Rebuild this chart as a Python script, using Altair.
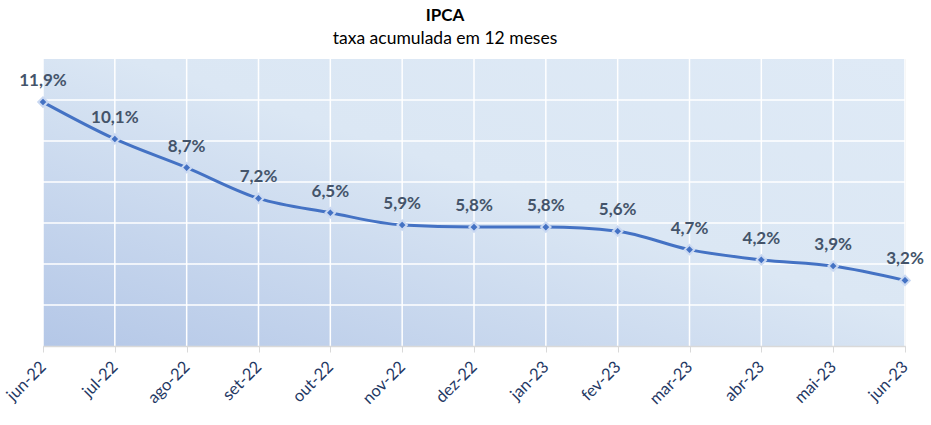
import altair as alt
import pandas as pd

months = ["jun-22", "jul-22", "ago-22", "set-22", "out-22", "nov-22", "dez-22",
          "jan-23", "fev-23", "mar-23", "abr-23", "mai-23", "jun-23"]
values = [11.9, 10.1, 8.7, 7.2, 6.5, 5.9, 5.8, 5.8, 5.6, 4.7, 4.2, 3.9, 3.2]
y_grid = [2, 4, 6, 8, 10, 12]

df = pd.DataFrame({"mes": months, "v": values})
grid_df = pd.DataFrame({"g": y_grid})

xscale = alt.Scale(type="point", padding=0, domain=months)
yscale = alt.Scale(domain=[0, 14], nice=False)

x = alt.X("mes:N", sort=months, scale=xscale,
          axis=alt.Axis(title=None, labelAngle=-45, labelFont="Lato", labelFontSize=16.5,
                        labelColor="#1f3864", tickColor="#d9d9d9", tickSize=6,
                        domainColor="#d9d9d9", domainWidth=1.5, labelPadding=12,
                        grid=False))
y = alt.Y("v:Q", scale=yscale,
          axis=alt.Axis(title=None, labels=False, ticks=False, domain=False, grid=False))

bg = alt.Chart(pd.DataFrame({"a": [0]})).mark_rect(
    color=alt.LinearGradient(gradient="linear", x1=0, y1=1, x2=1, y2=0,
                             stops=[alt.GradientStop(offset=0, color="#b4c7e7"),
                                    alt.GradientStop(offset=0.55, color="#dbe7f4"),
                                    alt.GradientStop(offset=1, color="#dfeaf6")])
).encode(x=alt.datum(months[0], scale=xscale), x2=alt.datum(months[-1]),
         y=alt.datum(0, scale=yscale), y2=alt.datum(14))

hgrid = alt.Chart(grid_df).mark_rule(color="white", strokeWidth=1.5).encode(
    y=alt.Y("g:Q", scale=yscale))
vgrid = alt.Chart(df).mark_rule(color="white", strokeWidth=1.5).encode(
    x=alt.X("mes:N", sort=months, scale=xscale))

base = alt.Chart(df).encode(x=x, y=y)

line = base.mark_line(color="#4472c4", strokeWidth=3, interpolate="monotone")
pts = base.mark_point(shape="diamond", filled=True, size=90, fill="#4472c4",
                      stroke="#c9d8f2", strokeWidth=2, opacity=1)
labels = base.transform_calculate(
    lab="replace(format(datum.v, '.1f'), '.', ',') + '%'"
).mark_text(font="Lato", fontSize=17, fontWeight="bold", color="#44546a",
            dy=-21).encode(text="lab:N")

chart = alt.layer(bg, hgrid, vgrid, line, pts, labels).properties(
    width=862, height=287,
    padding={"left": 43, "top": 59, "right": 26, "bottom": 79},
    autosize=alt.AutoSizeParams(type="none"),
    title=alt.TitleParams(text="IPCA", subtitle="taxa acumulada em 12 meses",
                          font="Lato", fontSize=17, fontWeight="bold", color="black",
                          subtitleFont="Lato", subtitleFontSize=17.5, subtitleColor="black",
                          anchor="middle", dx=-29, offset=10, subtitlePadding=5),
).configure_view(strokeWidth=0).configure(background="white")

chart.save("out.html", embed_options={"renderer": "svg", "actions": False})
